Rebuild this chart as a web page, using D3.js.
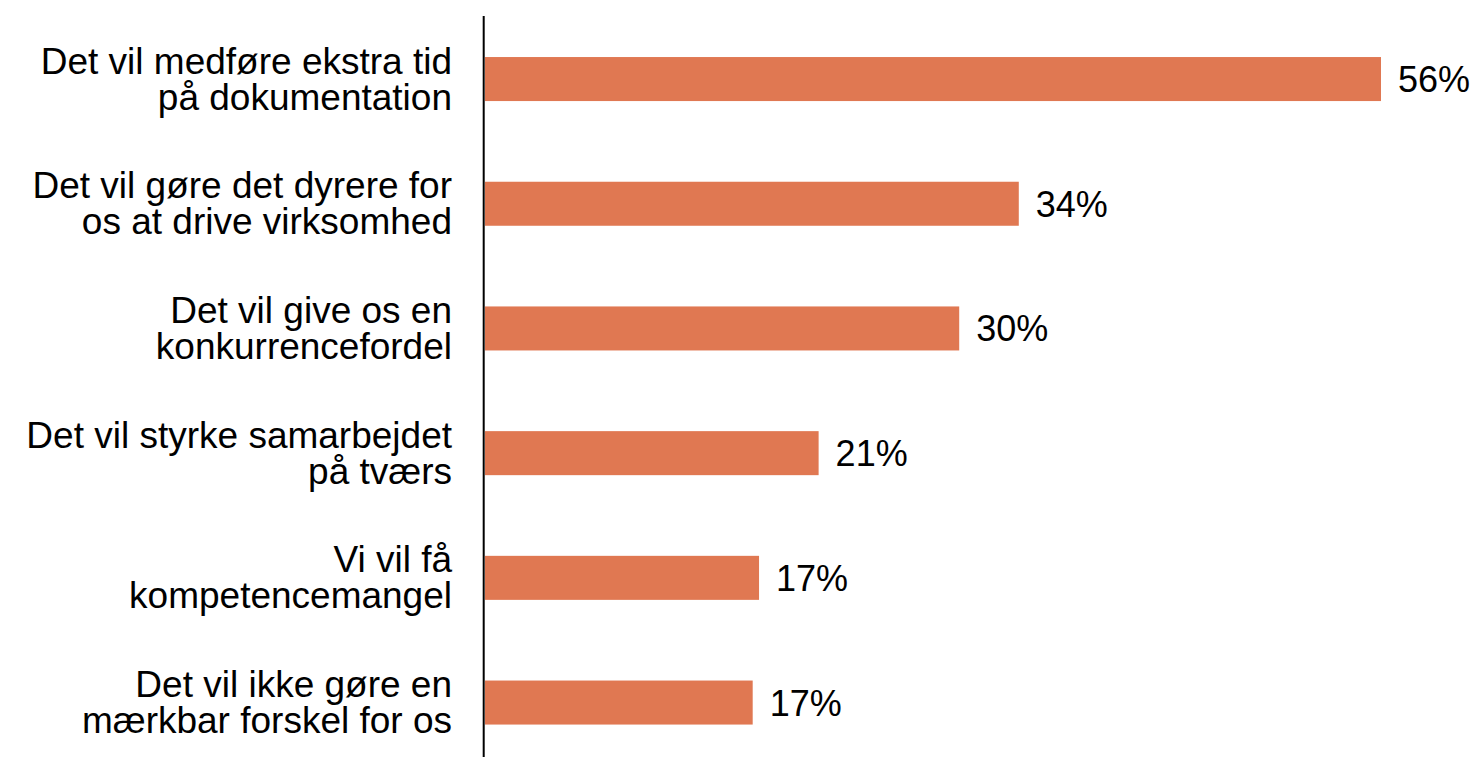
<!DOCTYPE html>
<html>
<head>
<meta charset="utf-8">
<script src="https://cdn.jsdelivr.net/npm/d3@7"></script>
<style>
  html, body { margin: 0; padding: 0; background: #fff; }
  svg { display: block; }
  text { font-family: "Liberation Sans", Arial, sans-serif; fill: #000; }
</style>
</head>
<body>
<div id="chart"></div>
<script>
// categories, each split into the two lines shown in the chart
const categories = [
  ['Det vil medføre ekstra tid', 'på dokumentation'],
  ['Det vil gøre det dyrere for', 'os at drive virksomhed'],
  ['Det vil give os en', 'konkurrencefordel'],
  ['Det vil styrke samarbejdet', 'på tværs'],
  ['Vi vil få', 'kompetencemangel'],
  ['Det vil ikke gøre en', 'mærkbar forskel for os']
];
// share of respondents (%)
const values = [56.4, 33.6, 29.85, 21.0, 17.25, 16.85];

const W = 1476, H = 757;
const catFont = 37;
const valFont = 36;
const lineHeight = 36;

const svg = d3.select('#chart').append('svg')
  .attr('width', W)
  .attr('height', H);

const data = categories.map((c, i) => ({ id: i, lines: c, value: values[i] }));

// Scales
const y = d3.scaleBand()
  .domain(data.map(d => d.id))
  .range([16.7, 764.9])
  .paddingInner(0.647)
  .paddingOuter(0.3235);

const x = d3.scaleLinear()
  .domain([0, d3.max(values)])
  .range([485, 1381]);

// Bars
svg.selectAll('.bar')
  .data(data)
  .enter().append('rect')
  .attr('class', 'bar')
  .attr('x', x(0))
  .attr('y', d => y(d.id))
  .attr('width', d => x(d.value) - x(0))
  .attr('height', y.bandwidth())
  .attr('fill', '#e07852');

// Value labels
svg.selectAll('.bar-label')
  .data(data)
  .enter().append('text')
  .attr('class', 'bar-label')
  .attr('x', d => x(d.value) + 17)
  .attr('y', d => y(d.id) + y.bandwidth() / 2)
  .attr('dy', '0.36em')
  .style('font-size', valFont + 'px')
  .text(d => Math.round(d.value) + '%');

// Category labels (two lines, right aligned)
const cat = svg.selectAll('.cat-label')
  .data(data)
  .enter().append('text')
  .attr('class', 'cat-label')
  .attr('text-anchor', 'end')
  .style('font-size', catFont + 'px');

cat.each(function(d) {
  const t = d3.select(this);
  const cy = y(d.id) + y.bandwidth() / 2;
  const n = d.lines.length;
  d.lines.forEach((line, i) => {
    t.append('tspan')
      .attr('x', 452)
      .attr('y', cy + catFont * 0.34 + (i - (n - 1) / 2) * lineHeight)
      .text(line);
  });
});

// Vertical axis line
svg.append('line')
  .attr('x1', 483.7)
  .attr('x2', 483.7)
  .attr('y1', 16)
  .attr('y2', H)
  .attr('stroke', '#000')
  .attr('stroke-width', 2);
</script>
</body>
</html>
